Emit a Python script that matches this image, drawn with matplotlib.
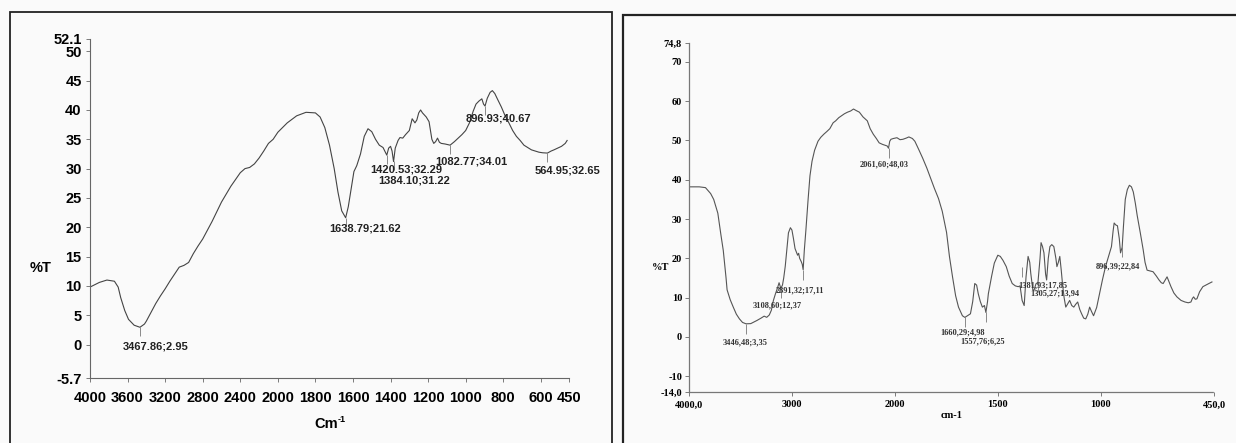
import numpy as np
import matplotlib
matplotlib.use("Agg")
import matplotlib.pyplot as plt
from matplotlib.patches import Rectangle
from matplotlib.ticker import FixedLocator, FixedFormatter

# ---- left spectrum (%T vs Cm-1) ----
left_wn = [4000, 3900, 3820, 3740, 3700, 3673, 3630, 3590, 3530, 3468, 3420, 3400, 3350, 3300,
           3250, 3200, 3150, 3100, 3050, 3000, 2950, 2900, 2850, 2800, 2700, 2600, 2500, 2400,
           2350, 2300, 2250, 2200, 2150, 2100, 2050, 2000, 1950, 1900, 1850, 1800, 1775, 1750,
           1725, 1700, 1680, 1660, 1639, 1625, 1610, 1595, 1580, 1570, 1560, 1550, 1540, 1520,
           1500, 1480, 1460, 1440, 1420, 1410, 1400, 1392, 1384, 1375, 1360, 1350, 1335, 1320,
           1300, 1285, 1270, 1260, 1250, 1240, 1230, 1210, 1195, 1180, 1170, 1160, 1150, 1140,
           1130, 1110, 1083, 1060, 1040, 1020, 1000, 980, 960, 945, 930, 914, 905, 897,
           885, 870, 858, 845, 830, 810, 790, 770, 750, 730, 710, 690, 670, 650,
           630, 610, 590, 565, 545, 530, 510, 490, 470, 460]
left_t = [9.8, 10.6, 11.0, 10.8, 9.8, 8.0, 5.8, 4.3, 3.3, 2.95, 3.5, 4.0, 5.5, 7.0,
          8.3, 9.5, 10.8, 12.0, 13.2, 13.5, 14.0, 15.5, 16.8, 18.0, 21.0, 24.3, 27.0, 29.3,
          30.0, 30.2, 30.8, 31.8, 33.0, 34.3, 35.0, 36.2, 37.8, 39.0, 39.6, 39.5, 38.8, 37.0,
          34.0, 30.0, 26.0, 22.8, 21.62, 23.5, 26.5, 29.5, 30.5, 31.5, 32.5, 34.0, 35.5, 36.8,
          36.3, 35.0, 34.0, 33.6, 32.3, 33.5, 33.8, 33.0, 31.2, 33.5, 34.8, 35.3, 35.2, 35.8,
          36.5, 38.5, 37.8, 38.3, 39.5, 40.0, 39.5, 38.8, 38.0, 35.0, 34.3, 34.6, 35.2, 34.5,
          34.3, 34.2, 34.0, 34.6, 35.2, 35.8, 36.5, 37.8, 39.8, 41.0, 41.5, 41.9, 41.0, 40.67,
          42.0, 43.0, 43.3, 42.8, 41.8, 40.5, 39.0, 37.8, 36.5, 35.5, 34.8, 34.0, 33.6, 33.2,
          33.0, 32.8, 32.7, 32.65, 33.0, 33.2, 33.5, 33.8, 34.3, 34.8]
left_peak_wn = [3467.86, 1638.79, 1420.53, 1384.10, 1082.77, 896.93, 564.95]
left_peak_t = [2.95, 21.62, 32.29, 31.22, 34.01, 40.67, 32.65]
left_label_pos = [(3305, -0.3), (1538, 19.8), (1314, 29.8), (1276, 27.9),
                  (972, 31.2), (826, 38.5), (460, 29.6)]
left_yticks = [-5.7, 0, 5, 10, 15, 20, 25, 30, 35, 40, 45, 50, 52.1]
left_ytick_labels = ['-5.7', '0', '5', '10', '15', '20', '25', '30', '35', '40', '45', '50', '52.1']
left_xticks = [4000, 3600, 3200, 2800, 2400, 2000, 1800, 1600, 1400, 1200, 1000, 800, 600, 450]

# ---- right spectrum (%T vs cm-1) ----
right_wn = [4000, 3900, 3840, 3790, 3760, 3720, 3690, 3667, 3640, 3630, 3600, 3570, 3540, 3510,
            3480, 3446, 3400, 3370, 3340, 3300, 3270, 3245, 3220, 3200, 3180, 3160, 3140, 3125,
            3108, 3092, 3080, 3065, 3050, 3034, 3015, 3000, 2985, 2970, 2955, 2945, 2935, 2925,
            2910, 2900, 2891, 2880, 2865, 2843, 2825, 2805, 2780, 2747, 2720, 2690, 2660, 2632,
            2600, 2575, 2545, 2517, 2490, 2460, 2430, 2402, 2375, 2345, 2310, 2268, 2240, 2210,
            2180, 2153, 2120, 2096, 2075, 2062, 2050, 2038, 2015, 1990, 1975, 1961, 1945, 1932,
            1915, 1903, 1885, 1865, 1845, 1826, 1808, 1788, 1770, 1749, 1735, 1720, 1705, 1691,
            1672, 1660, 1645, 1633, 1622, 1612, 1603, 1595, 1585, 1575, 1565, 1558, 1550, 1546,
            1530, 1517, 1500, 1488, 1475, 1459, 1445, 1430, 1415, 1401, 1392, 1382, 1372, 1363,
            1353, 1345, 1340, 1330, 1324, 1315, 1305, 1295, 1290, 1283, 1276, 1268, 1263, 1255,
            1247, 1238, 1228, 1218, 1213, 1206, 1199, 1192, 1186, 1178, 1170, 1160, 1151, 1141,
            1131, 1122, 1112, 1102, 1093, 1083, 1073, 1063, 1054, 1045, 1035, 1020, 1006, 992,
            977, 962, 948, 940, 935, 927, 919, 910, 904, 896, 890, 881, 871, 861,
            851, 842, 832, 823, 808, 794, 785, 775, 760, 746, 730, 717, 706, 697,
            687, 678, 668, 659, 645, 630, 610, 591, 575, 562, 555, 549, 541, 533,
            520, 504, 490, 475, 460]
right_t = [38.2, 38.2, 38.0, 36.5, 35.0, 31.5, 26.0, 22.0, 15.0, 12.0, 9.5, 7.6, 5.8, 4.6,
           3.7, 3.35, 3.4, 3.8, 4.2, 4.8, 5.3, 5.0, 5.6, 6.8, 9.3, 11.0, 12.5, 13.8,
           12.37, 13.2, 15.0, 18.0, 22.0, 26.5, 27.8, 27.2, 25.0, 22.5, 21.5, 20.8, 21.3, 20.0,
           19.2, 18.5, 17.11, 22.0, 27.0, 35.0, 41.0, 44.7, 47.5, 49.8, 50.8, 51.6, 52.3, 53.0,
           54.5, 55.0, 55.8, 56.3, 56.8, 57.2, 57.5, 58.0, 57.6, 57.2, 56.0, 55.0, 53.0, 51.6,
           50.5, 49.4, 49.0, 48.8, 48.6, 48.03, 49.8, 50.3, 50.5, 50.7, 50.2, 50.3, 50.6, 50.9,
           50.5, 49.8, 47.8, 45.5, 43.0, 40.3, 37.8, 35.2, 32.0, 26.6, 20.5, 15.3, 10.5, 7.6,
           5.4, 4.98, 5.5, 5.9, 9.0, 13.6, 13.2, 11.0, 9.0, 7.6, 8.0, 6.25, 9.0, 11.0,
           15.5, 18.8, 20.8, 20.5, 19.5, 17.9, 15.5, 13.6, 13.0, 12.8, 13.0, 9.3, 8.0, 15.3,
           20.5, 19.0, 16.2, 12.0, 11.9, 13.5, 13.94, 20.0, 24.0, 23.0, 21.4, 16.0, 14.5, 20.0,
           23.0, 23.5, 23.0, 20.0, 17.9, 19.0, 20.5, 17.0, 13.6, 10.0, 7.6, 8.5, 9.3, 8.0,
           7.6, 8.3, 8.9, 7.0, 5.9, 4.8, 4.6, 5.8, 7.6, 6.5, 5.4, 7.5, 11.0, 14.5,
           17.9, 20.5, 23.0, 27.0, 29.0, 28.5, 28.3, 25.0, 21.4, 22.84, 28.0, 35.0, 37.5, 38.6,
           38.2, 36.9, 34.0, 30.9, 26.5, 22.2, 19.0, 17.0, 16.8, 16.6, 15.5, 14.5, 13.8, 13.6,
           14.5, 15.3, 14.0, 12.8, 11.2, 10.2, 9.3, 8.9, 8.7, 8.9, 9.8, 10.2, 9.6, 9.7,
           11.5, 12.8, 13.2, 13.6, 14.0]
right_peak_wn = [3446.48, 3108.60, 2891.32, 2061.60, 1660.29, 1557.76, 1381.93, 1305.27, 896.39]
right_peak_t = [3.35, 12.37, 17.11, 48.03, 4.98, 6.25, 17.85, 13.94, 22.84]
right_label_pos = [(3460, -1.5), (3142, 8.0), (2920, 11.9), (2107, 44.0), (1672, 1.1),
                   (1575, -1.2), (1282, 13.2), (1224, 11.0), (919, 17.9)]
right_yticks = [-14.0, -10, 0, 10, 20, 30, 40, 50, 60, 70, 74.8]
right_ytick_labels = ['-14,0', '-10', '0', '10', '20', '30', '40', '50', '60', '70', '74,8']
right_xticks = [4000, 3000, 2000, 1500, 1000, 450]
right_xtick_labels = ['4000,0', '3000', '2000', '1500', '1000', '450,0']


# instrument style split axis: above 2000 cm-1 is compressed by half
def fwd(x):
    x = np.asarray(x, dtype=float)
    return np.where(x > 2000, 2000 + (x - 2000) / 2, x)


def inv(y):
    y = np.asarray(y, dtype=float)
    return np.where(y > 2000, 2000 + (y - 2000) * 2, y)


fig = plt.figure(figsize=(12.36, 4.43), dpi=100, facecolor='#fafafa')

# panel frames
fig.patches.append(Rectangle((10 / 1236, -0.1), 602 / 1236, 1.1 - 12 / 443, transform=fig.transFigure,
                             fill=False, edgecolor='#222222', linewidth=1.3))
fig.patches.append(Rectangle((623 / 1236, -0.1), 0.6, 1.1 - 15 / 443, transform=fig.transFigure,
                             fill=False, edgecolor='#222222', linewidth=1.6))

# ---- left chart ----
ax1 = fig.add_axes([90 / 1236, 65 / 443, 479 / 1236, 339 / 443])
ax1.set_facecolor('none')
ax1.plot(left_wn, left_t, color='#444444', linewidth=0.8)
ax1.set_xscale('function', functions=(fwd, inv))
ax1.set_xlim(4000, 450)
ax1.set_ylim(-5.7, 52.1)
ax1.xaxis.set_major_locator(FixedLocator(left_xticks))
ax1.xaxis.set_major_formatter(FixedFormatter([str(v) for v in left_xticks]))
ax1.xaxis.set_minor_locator(FixedLocator([]))
ax1.yaxis.set_major_locator(FixedLocator(left_yticks))
ax1.yaxis.set_major_formatter(FixedFormatter(left_ytick_labels))
for s in ['top', 'right']:
    ax1.spines[s].set_visible(False)
for s in ['left', 'bottom']:
    ax1.spines[s].set_color('#666666')
    ax1.spines[s].set_linewidth(0.8)
ax1.tick_params(length=3, width=0.6, color='#666666', labelsize=10.5, pad=3)
for lab in ax1.get_xticklabels() + ax1.get_yticklabels():
    lab.set_fontweight('bold')
    lab.set_fontfamily('Liberation Sans')
ax1.tick_params(axis='x', pad=6)

ax1.vlines(left_peak_wn, np.array(left_peak_t) - 1.5, left_peak_t, color='#777777', linewidth=0.6)
for wn, t, (lx, ly) in zip(left_peak_wn, left_peak_t, left_label_pos):
    ax1.text(lx, ly, f"{wn:.2f};{t:.2f}", ha='center', va='center', fontsize=8,
             fontweight='bold', family='Liberation Sans', color='#222222', clip_on=False)

fig.text(30 / 1236, 1 - 268 / 443, '%T', ha='left', va='center', fontsize=10.5,
         fontweight='bold', family='Liberation Sans')
fig.text(338 / 1236, 1 - 424 / 443, 'Cm', ha='right', va='center', fontsize=10.5,
         fontweight='bold', family='Liberation Sans')
fig.text(338 / 1236, 1 - 419 / 443, '-1', ha='left', va='center', fontsize=6.5,
         fontweight='bold', family='Liberation Sans')

# ---- right chart ----
ax2 = fig.add_axes([689 / 1236, 51 / 443, 525 / 1236, 349 / 443])
ax2.set_facecolor('none')
ax2.plot(right_wn, right_t, color='#555555', linewidth=0.8)
ax2.set_xscale('function', functions=(fwd, inv))
ax2.set_xlim(4000, 450)
ax2.set_ylim(-14.0, 74.8)
ax2.xaxis.set_major_locator(FixedLocator(right_xticks))
ax2.xaxis.set_major_formatter(FixedFormatter(right_xtick_labels))
ax2.xaxis.set_minor_locator(FixedLocator([]))
ax2.yaxis.set_major_locator(FixedLocator(right_yticks))
ax2.yaxis.set_major_formatter(FixedFormatter(right_ytick_labels))
for s in ['top', 'right']:
    ax2.spines[s].set_visible(False)
for s in ['left', 'bottom']:
    ax2.spines[s].set_color('#777777')
    ax2.spines[s].set_linewidth(0.9)
ax2.spines['bottom'].set_linestyle((0, (4, 1)))
ax2.tick_params(length=3, width=0.6, color='#666666', labelsize=7.5, pad=2)
for lab in ax2.get_xticklabels() + ax2.get_yticklabels():
    lab.set_fontweight('bold')
    lab.set_fontfamily('Liberation Serif')
ax2.tick_params(axis='x', pad=3)

ax2.vlines(right_peak_wn, np.array(right_peak_t) - 2.5, right_peak_t, color='#777777', linewidth=0.6)
for wn, t, (lx, ly) in zip(right_peak_wn, right_peak_t, right_label_pos):
    txt = f"{wn:.2f};{t:.2f}".replace('.', ',')
    ax2.text(lx, ly, txt, ha='center', va='center', fontsize=6,
             fontweight='bold', family='Liberation Serif', color='#333333', clip_on=False)

fig.text(652 / 1236, 1 - 268 / 443, '%T', ha='left', va='center', fontsize=7.5,
         fontweight='bold', family='Liberation Serif')
fig.text(952 / 1236, 1 - 416 / 443, 'cm-1', ha='center', va='center', fontsize=7.5,
         fontweight='bold', family='Liberation Serif')

fig.savefig('out.png', dpi=100, facecolor=fig.get_facecolor())
